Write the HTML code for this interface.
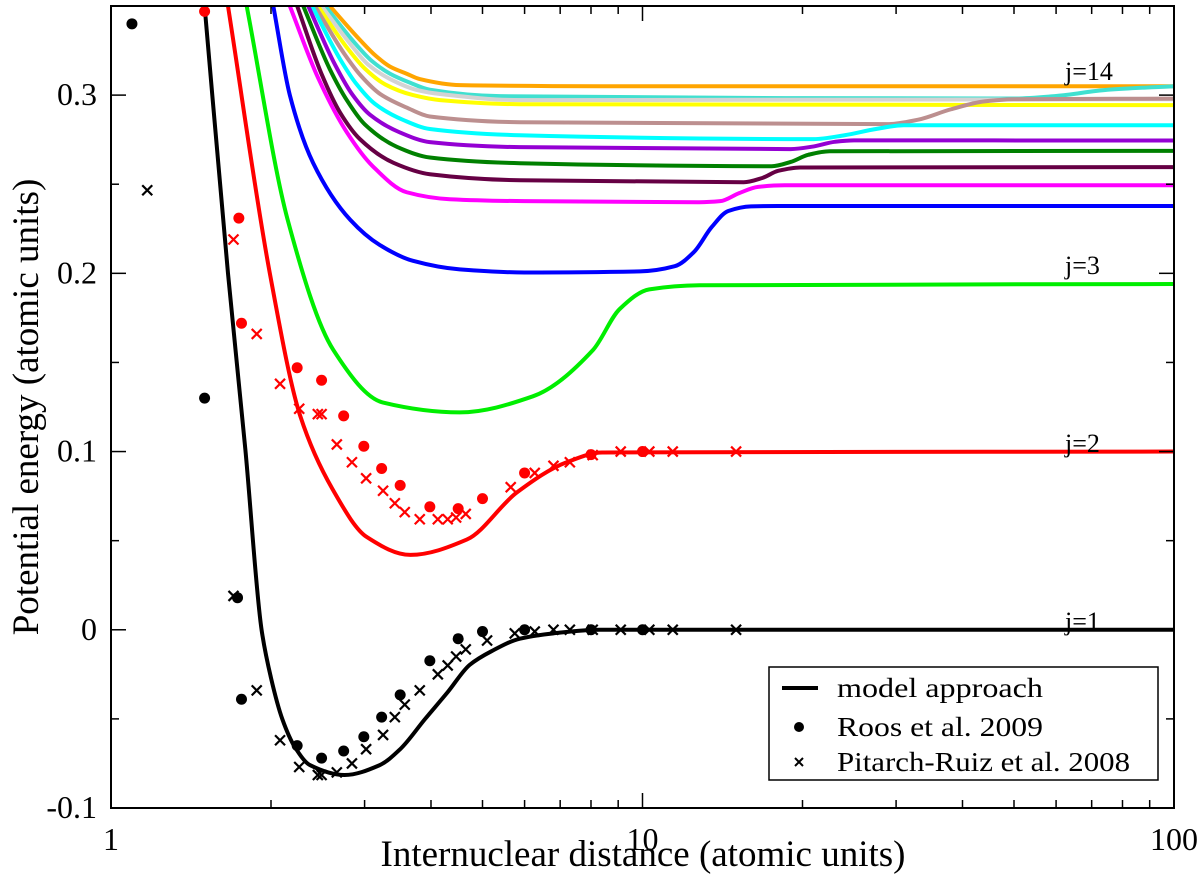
<!DOCTYPE html>
<html><head><meta charset="utf-8"><style>
body{margin:0;background:#fff}
svg text{font-family:"Liberation Serif",serif;fill:#000}
</style></head><body>
<svg id="chart" width="1200" height="882" viewBox="0 0 1200 882" xmlns="http://www.w3.org/2000/svg">
<defs><clipPath id="clip"><rect x="111" y="6" width="1063" height="802"/></clipPath></defs>
<g id="curves" clip-path="url(#clip)"></g>
<g id="points" clip-path="url(#clip)"></g>
<g id="axes"></g>
<text x="1065" y="80" font-size="26">j=14</text>
<text x="1065" y="274" font-size="26">j=3</text>
<text x="1065" y="452" font-size="26">j=2</text>
<text x="1065" y="630" font-size="26">j=1</text>
<text x="643" y="866" font-size="37" text-anchor="middle">Internuclear distance (atomic units)</text>
<text transform="translate(38,407) rotate(-90)" font-size="37" text-anchor="middle">Potential energy (atomic units)</text>
<g>
<rect x="769" y="667" width="389" height="113" fill="#fff" stroke="#000" stroke-width="1.5"/>
<line x1="782" y1="688" x2="818" y2="688" stroke="#000" stroke-width="4"/>
<text x="837" y="697" font-size="27" textLength="206" lengthAdjust="spacingAndGlyphs">model approach</text>
<circle cx="799" cy="727" r="5" fill="#000"/>
<text x="837" y="736" font-size="27" textLength="206" lengthAdjust="spacingAndGlyphs">Roos et al. 2009</text>
<path d="M795,758L803,766M795,766L803,758" stroke="#000" stroke-width="2"/>
<text x="837" y="771" font-size="27" textLength="293" lengthAdjust="spacingAndGlyphs">Pitarch-Ruiz et al. 2008</text>
</g>
</svg>
<script>
// ---- data ----
const xTicks = [1, 10, 100];
const xTickLabels = ["1", "10", "100"];
const yTicks = [-0.1, 0, 0.1, 0.2, 0.3];
const yTickLabels = ["-0.1", "0", "0.1", "0.2", "0.3"];

const curveNames = ["j1","j2","j3","blue","magenta","maroon","darkgreen","purple","cyan","rosybrown","yellow","lightgray","turquoise","orange"];
const curveColors = ["#000000","#ff0000","#00ee00","#0000ff","#ff00ff","#660044","#008000","#9400d3","#00ffff","#bc8f8f","#ffff00","#d3d3d3","#40e0d0","#ffa500"];

const j1R = [1.50,1.66,1.79,1.92,2.0,2.10,2.22,2.37,2.75,3.20,3.5,3.90,4.3,4.73,5.2,5.88,6.8,8.3,100];
const j1E = [0.35,0.20,0.101,0,-0.027,-0.05,-0.066,-0.076,-0.0815,-0.076,-0.067,-0.05,-0.035,-0.0197,-0.012,-0.005,-0.002,0,0];
const j2R = [1.66,1.99,2.27,2.61,3.03,3.66,4.67,5.80,7.2,8.4,100];
const j2E = [0.35,0.20,0.12,0.079,0.052,0.042,0.0506,0.077,0.094,0.0995,0.1];
const j3R = [1.80,2.15,2.62,3.25,4.53,6.22,8.07,9.06,10.3,12.8,100];
const j3E = [0.35,0.23,0.157,0.1275,0.122,0.131,0.157,0.18,0.191,0.1933,0.194];
const blueR = [2.02,2.17,2.4,2.82,3.2,3.7,4.53,6,9.9,11.5,12.5,13.5,14.5,16,18,100];
const blueE = [0.35,0.30,0.262,0.23,0.216,0.207,0.2022,0.2005,0.2011,0.204,0.212,0.226,0.235,0.2376,0.2378,0.2378];
const magentaR = [2.17,2.45,2.78,3.11,3.6,4.34,6,12.8,14,15.2,16.5,18.5,100];
const magentaE = [0.35,0.31,0.279,0.260,0.2455,0.2416,0.2405,0.2399,0.2405,0.245,0.2485,0.2494,0.2494];
const maroonR = [2.24,2.49,2.7,2.94,3.4,3.98,5.88,15.5,16.8,18,19.8,100];
const maroonE = [0.35,0.3118,0.29,0.2753,0.262,0.2556,0.2522,0.2511,0.2535,0.2575,0.2594,0.2596];
const dgreenR = [2.30,2.58,2.78,3.0,3.45,3.98,5.88,17.5,19,20.5,22.5,100];
const dgreenE = [0.35,0.3146,0.297,0.2837,0.271,0.265,0.2618,0.2601,0.2625,0.2665,0.2685,0.2687];
const purpleR = [2.35,2.64,2.85,3.07,3.5,3.98,5.88,19,21,23,25,100];
const purpleE = [0.35,0.317,0.30,0.289,0.279,0.2736,0.2708,0.2697,0.2712,0.2738,0.2746,0.2745];
const cyanR = [2.39,2.70,2.9,3.14,3.55,3.98,5.88,21,24,27.5,31,100];
const cyanE = [0.35,0.320,0.306,0.295,0.286,0.281,0.2775,0.2753,0.2775,0.281,0.2831,0.2831];
const rosyR = [2.42,2.75,2.95,3.21,3.6,3.98,5.88,29,33,38,44,50,100];
const rosyE = [0.35,0.323,0.311,0.3006,0.293,0.288,0.2848,0.2837,0.2862,0.292,0.2965,0.2977,0.298];
const yellowR = [2.45,2.79,3.0,3.28,3.7,4.16,5.88,100];
const yellowE = [0.35,0.326,0.315,0.306,0.30,0.2972,0.2949,0.2944];
const grayR = [2.49,2.84,3.05,3.35,3.75,4.16,5.88,100];
const grayE = [0.35,0.3275,0.317,0.309,0.303,0.3006,0.2972,0.2977];
const turqR = [2.53,2.88,3.1,3.35,3.65,3.98,5.39,19.8,50,60,75,100];
const turqE = [0.35,0.329,0.319,0.312,0.307,0.303,0.2994,0.2983,0.2981,0.2995,0.303,0.305];
const orangeR = [2.58,2.94,3.15,3.35,3.6,3.81,4.54,8.32,100];
const orangeE = [0.35,0.331,0.322,0.316,0.312,0.309,0.3056,0.305,0.305];

const roosBlackR = [1.095,1.50,1.73,1.76,2.24,2.49,2.74,2.99,3.23,3.5,3.98,4.5,5.0,6.0,8.0,10];
const roosBlackE = [0.340,0.130,0.018,-0.039,-0.065,-0.072,-0.068,-0.060,-0.049,-0.0365,-0.0174,-0.005,-0.001,0,0,0];
const pitBlackR = [1.17,1.70,1.88,2.08,2.26,2.45,2.49,2.66,2.84,3.02,3.25,3.42,3.57,3.81,4.12,4.3,4.46,4.65,5.1,5.75,6.27,6.8,7.3,8.06,9.1,10.3,11.4,15.0];
const pitBlackE = [0.2466,0.019,-0.034,-0.062,-0.077,-0.0815,-0.0815,-0.080,-0.075,-0.067,-0.059,-0.049,-0.042,-0.034,-0.025,-0.020,-0.015,-0.011,-0.006,-0.002,-0.001,0,0,0,0,0,0,0];
const roosRedR = [1.50,1.74,1.76,2.24,2.49,2.74,2.99,3.23,3.5,3.98,4.5,5.0,6.0,8.0,10];
const roosRedE = [0.347,0.231,0.172,0.147,0.140,0.120,0.103,0.0905,0.081,0.069,0.068,0.0736,0.088,0.0983,0.1];
const pitRedR = [1.70,1.88,2.08,2.26,2.45,2.49,2.66,2.84,3.02,3.25,3.42,3.57,3.81,4.12,4.3,4.46,4.65,5.65,6.27,6.8,7.3,8.06,9.1,10.3,11.4,15];
const pitRedE = [0.219,0.166,0.138,0.124,0.121,0.121,0.104,0.094,0.085,0.078,0.071,0.066,0.062,0.062,0.062,0.063,0.065,0.080,0.088,0.092,0.094,0.098,0.1,0.1,0.1,0.1];

// ---- scales ----
const X0=111, X1=1174, Y0=808, Y1=6;
function xs(r){return X0+(X1-X0)*Math.log10(r)/2;}
function ys(e){return Y0-(Y0-Y1)*(e+0.1)/0.45;}
const NS="http://www.w3.org/2000/svg";
function mk(tag,attrs,parent){const el=document.createElementNS(NS,tag);for(const k in attrs)el.setAttribute(k,attrs[k]);parent.appendChild(el);return el;}

// monotone cubic (Fritsch-Carlson) in pixel space
function pathFrom(R,E){
  const X=R.map(xs), Y=E.map(ys), n=X.length;
  const d=[], m=new Array(n);
  for(let i=0;i<n-1;i++) d.push((Y[i+1]-Y[i])/(X[i+1]-X[i]));
  m[0]=d[0]; m[n-1]=d[n-2];
  for(let i=1;i<n-1;i++){
    if(d[i-1]*d[i]<=0) m[i]=0;
    else { const h0=X[i]-X[i-1], h1=X[i+1]-X[i]; const w1=2*h1+h0, w2=h1+2*h0; m[i]=(w1+w2)/(w1/d[i-1]+w2/d[i]); }
  }
  let s="M"+X[0]+","+Y[0];
  for(let i=0;i<n-1;i++){
    const h=X[i+1]-X[i];
    s+=" C"+(X[i]+h/3)+","+(Y[i]+m[i]*h/3)+" "+(X[i+1]-h/3)+","+(Y[i+1]-m[i+1]*h/3)+" "+X[i+1]+","+Y[i+1];
  }
  return s;
}
const curveR=[j1R,j2R,j3R,blueR,magentaR,maroonR,dgreenR,purpleR,cyanR,rosyR,yellowR,grayR,turqR,orangeR];
const curveE=[j1E,j2E,j3E,blueE,magentaE,maroonE,dgreenE,purpleE,cyanE,rosyE,yellowE,grayE,turqE,orangeE];
const cg=document.getElementById("curves");
for(let k=curveR.length-1;k>=0;k--){
  const el=mk("path",{d:pathFrom(curveR[k],curveE[k]),fill:"none",stroke:curveColors[k],"stroke-width":4,"stroke-linejoin":"round"},cg);
  
  
}
const pg=document.getElementById("points");
function dots(R,E,color,name){
  R.forEach((r,i)=>{
    const el=mk("circle",{cx:xs(r),cy:ys(E[i]),r:5.5,fill:color},pg);
    
    
  });
}
function crosses(R,E,color,name){
  R.forEach((r,i)=>{
    const x=xs(r),y=ys(E[i]),s=5;
    const el=mk("path",{d:`M${x-s},${y-s}L${x+s},${y+s}M${x-s},${y+s}L${x+s},${y-s}`,stroke:color,"stroke-width":2.2},pg);
    
    
  });
}
dots(roosBlackR,roosBlackE,"#000","roos-point-j1");
crosses(pitBlackR,pitBlackE,"#000","pitarch-point-j1");
dots(roosRedR,roosRedE,"#f00","roos-point-j2");
crosses(pitRedR,pitRedE,"#f00","pitarch-point-j2");

// ---- axes ----
const ag=document.getElementById("axes");
const frame=mk("rect",{x:X0,y:Y1,width:X1-X0,height:Y0-Y1,fill:"none",stroke:"#000","stroke-width":2},ag);


for(let dec=1;dec<100;dec*=10){
  for(let m=1;m<10;m++){
    const v=dec*m, x=xs(v), L=(m===1)?15:8;
    const t1=mk("line",{x1:x,y1:Y0,x2:x,y2:Y0-L,stroke:"#000","stroke-width":1.5},ag);
    
    
    const t2=mk("line",{x1:x,y1:Y1,x2:x,y2:Y1+L,stroke:"#000","stroke-width":1.5},ag);
    
    
  }
}
xTicks.forEach((v,i)=>{
  const t=mk("text",{x:xs(v),y:850,"font-size":32,"text-anchor":"middle"},ag);
  t.textContent=xTickLabels[i];
  
  
});
for(let k=0;k<9;k++){
  const v=-0.1+k*0.05, y=ys(v), L=(k%2===0)?15:8;
  const a=mk("line",{x1:X0,y1:y,x2:X0+L,y2:y,stroke:"#000","stroke-width":1.5},ag);
  
  
  const b=mk("line",{x1:X1,y1:y,x2:X1-L,y2:y,stroke:"#000","stroke-width":1.5},ag);
  
  
}
yTicks.forEach((v,i)=>{
  const t=mk("text",{x:97,y:ys(v)+10,"font-size":32,"text-anchor":"end"},ag);
  t.textContent=yTickLabels[i];
  
  
});
</script>
</body></html>
